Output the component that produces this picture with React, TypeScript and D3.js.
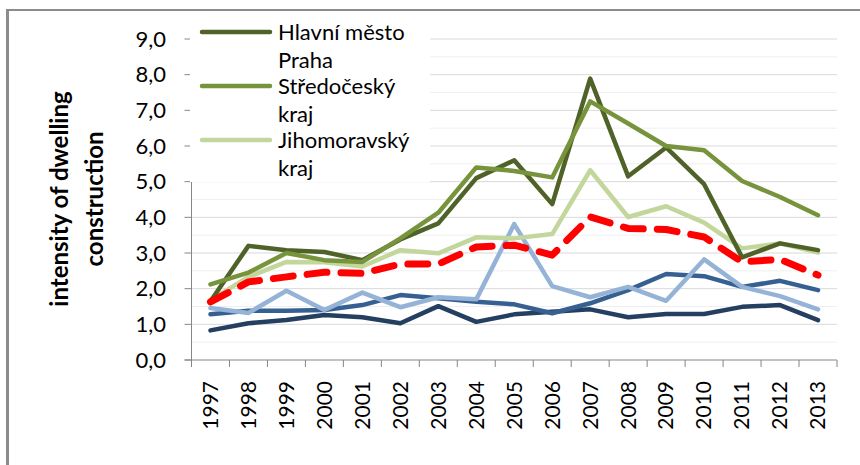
import React from "react";
import * as d3 from "d3";

const years = [
  "1997", "1998", "1999", "2000", "2001", "2002", "2003", "2004", "2005",
  "2006", "2007", "2008", "2009", "2010", "2011", "2012", "2013",
];

const praha = [1.65, 3.2, 3.08, 3.03, 2.8, 3.38, 3.83, 5.1, 5.6, 4.37, 7.89, 5.15, 5.96, 4.93, 2.88, 3.27, 3.08];
const stredocesky = [2.12, 2.45, 3.0, 2.8, 2.75, 3.41, 4.13, 5.4, 5.3, 5.12, 7.25, 6.63, 6.0, 5.88, 5.02, 4.57, 4.06];
const jihomoravsky = [1.68, 2.33, 2.75, 2.74, 2.62, 3.08, 2.99, 3.44, 3.41, 3.53, 5.32, 4.01, 4.31, 3.85, 3.13, 3.27, 3.01];
const lightBlue = [1.46, 1.32, 1.94, 1.4, 1.89, 1.48, 1.76, 1.7, 3.81, 2.07, 1.76, 2.05, 1.66, 2.82, 2.05, 1.79, 1.42];
const midBlue = [1.28, 1.38, 1.38, 1.4, 1.54, 1.82, 1.73, 1.63, 1.56, 1.31, 1.59, 1.96, 2.41, 2.35, 2.05, 2.22, 1.96];
const navy = [0.83, 1.03, 1.12, 1.26, 1.2, 1.03, 1.51, 1.07, 1.28, 1.35, 1.42, 1.2, 1.29, 1.29, 1.49, 1.54, 1.12];
const average = [1.63, 2.19, 2.33, 2.46, 2.43, 2.69, 2.69, 3.17, 3.22, 2.94, 4.01, 3.69, 3.66, 3.45, 2.75, 2.82, 2.38];

const yTicks = [0, 1, 2, 3, 4, 5, 6, 7, 8, 9];
const yMinor = [0.5, 1.5, 2.5, 3.5, 4.5, 5.5, 6.5, 7.5, 8.5];

const series = [
  { name: "navy", values: navy, color: "#243f60", dash: "" },
  { name: "midBlue", values: midBlue, color: "#376092", dash: "" },
  { name: "lightBlue", values: lightBlue, color: "#95b3d7", dash: "" },
  { name: "Jihomoravský kraj", values: jihomoravsky, color: "#c3d69b", dash: "" },
  { name: "Hlavní město Praha", values: praha, color: "#4f6228", dash: "" },
  { name: "Středočeský kraj", values: stredocesky, color: "#77933c", dash: "" },
  { name: "average", values: average, color: "#ff0000", dash: "20 14" },
];

const legendItems = [
  { lines: ["Hlavní město", "Praha"], color: "#4f6228" },
  { lines: ["Středočeský", "kraj"], color: "#77933c" },
  { lines: ["Jihomoravský", "kraj"], color: "#c3d69b" },
];

const W = 860;
const H = 465;
const left = 191.5;
const right = 837;
const top = 39;
const bottom = 360;

const font = "Lato, Carlito, Calibri, sans-serif";

export default function App() {
  const x = d3.scaleBand<string>().domain(years).range([left, right]);
  const y = d3.scaleLinear().domain([0, 9]).range([bottom, top]);
  const cx = (i: number) => (x(years[i]) as number) + x.bandwidth() / 2;
  const line = d3
    .line<number>()
    .x((_, i) => cx(i))
    .y((d) => y(d));

  return (
    <svg
      width={W}
      height={H}
      style={{ position: "absolute", left: 0, top: 0, background: "#fff" }}
      fontFamily={font}
    >
      <rect x={0} y={0} width={W} height={H} fill="#fff" />
      {/* frame */}
      <line x1={7.5} x2={7.5} y1={9} y2={H} stroke="#8c8c8c" strokeWidth={3} />
      <line x1={6} x2={W} y1={10} y2={10} stroke="#8c8c8c" strokeWidth={2} />

      {/* gridlines */}
      {yMinor.map((v) => (
        <line key={"m" + v} x1={left} x2={right} y1={y(v)} y2={y(v)} stroke="#efefef" strokeWidth={1} />
      ))}
      {yTicks.slice(1).map((v) => (
        <line key={"g" + v} x1={left} x2={right} y1={y(v)} y2={y(v)} stroke="#d9d9d9" strokeWidth={1} />
      ))}

      {/* axes */}
      <line x1={left} x2={left} y1={top} y2={bottom} stroke="#868686" strokeWidth={1} />
      <line x1={left - 7} x2={right} y1={bottom} y2={bottom} stroke="#868686" strokeWidth={1} />
      {yTicks.map((v) => (
        <g key={"t" + v}>
          <line x1={left - 7} x2={left} y1={y(v)} y2={y(v)} stroke="#868686" />
          <text x={166} y={y(v)} dy="0.35em" textAnchor="end" fontSize={22} fill="#000">
            {d3.format(".1f")(v).replace(".", ",")}
          </text>
        </g>
      ))}
      {years.map((yr) => (
        <line
          key={"xt" + yr}
          x1={x(yr) as number}
          x2={x(yr) as number}
          y1={bottom}
          y2={bottom + 7}
          stroke="#868686"
        />
      ))}
      <line x1={right} x2={right} y1={bottom} y2={bottom + 7} stroke="#868686" />
      {years.map((yr, i) => (
        <text
          key={"xl" + yr}
          transform={`translate(${cx(i)},381) rotate(-90)`}
          textAnchor="end"
          dy="0.35em"
          fontSize={21}
          fill="#000"
        >
          {yr}
        </text>
      ))}

      {/* y title */}
      <text
        transform={`translate(60,199) rotate(-90)`}
        textAnchor="middle"
        dy="0.35em"
        fontSize={24}
        fontWeight="bold"
        fill="#000"
      >
        intensity of dwelling
      </text>
      <text
        transform={`translate(95,199) rotate(-90)`}
        textAnchor="middle"
        dy="0.35em"
        fontSize={24}
        fontWeight="bold"
        fill="#000"
      >
        construction
      </text>

      {/* series */}
      {series.map((s) => (
        <path
          key={s.name}
          d={line(s.values) as string}
          fill="none"
          stroke={s.color}
          strokeWidth={s.dash ? 7 : 4.5}
          strokeDasharray={s.dash || undefined}
          strokeLinecap="round"
          strokeLinejoin="round"
        />
      ))}

      {/* legend */}
      <rect x={190} y={11} width={240} height={171} fill="#fff" />
      {legendItems.map((it, k) => {
        const ly = 32 + k * 54;
        return (
          <g key={"lg" + k}>
            <line x1={202} x2={270} y1={ly} y2={ly} stroke={it.color} strokeWidth={4.5} strokeLinecap="round" />
            {it.lines.map((t, j) => (
              <text key={t + j} x={278} y={ly + j * 28} dy="0.35em" fontSize={22} fill="#000">
                {t}
              </text>
            ))}
          </g>
        );
      })}
    </svg>
  );
}
